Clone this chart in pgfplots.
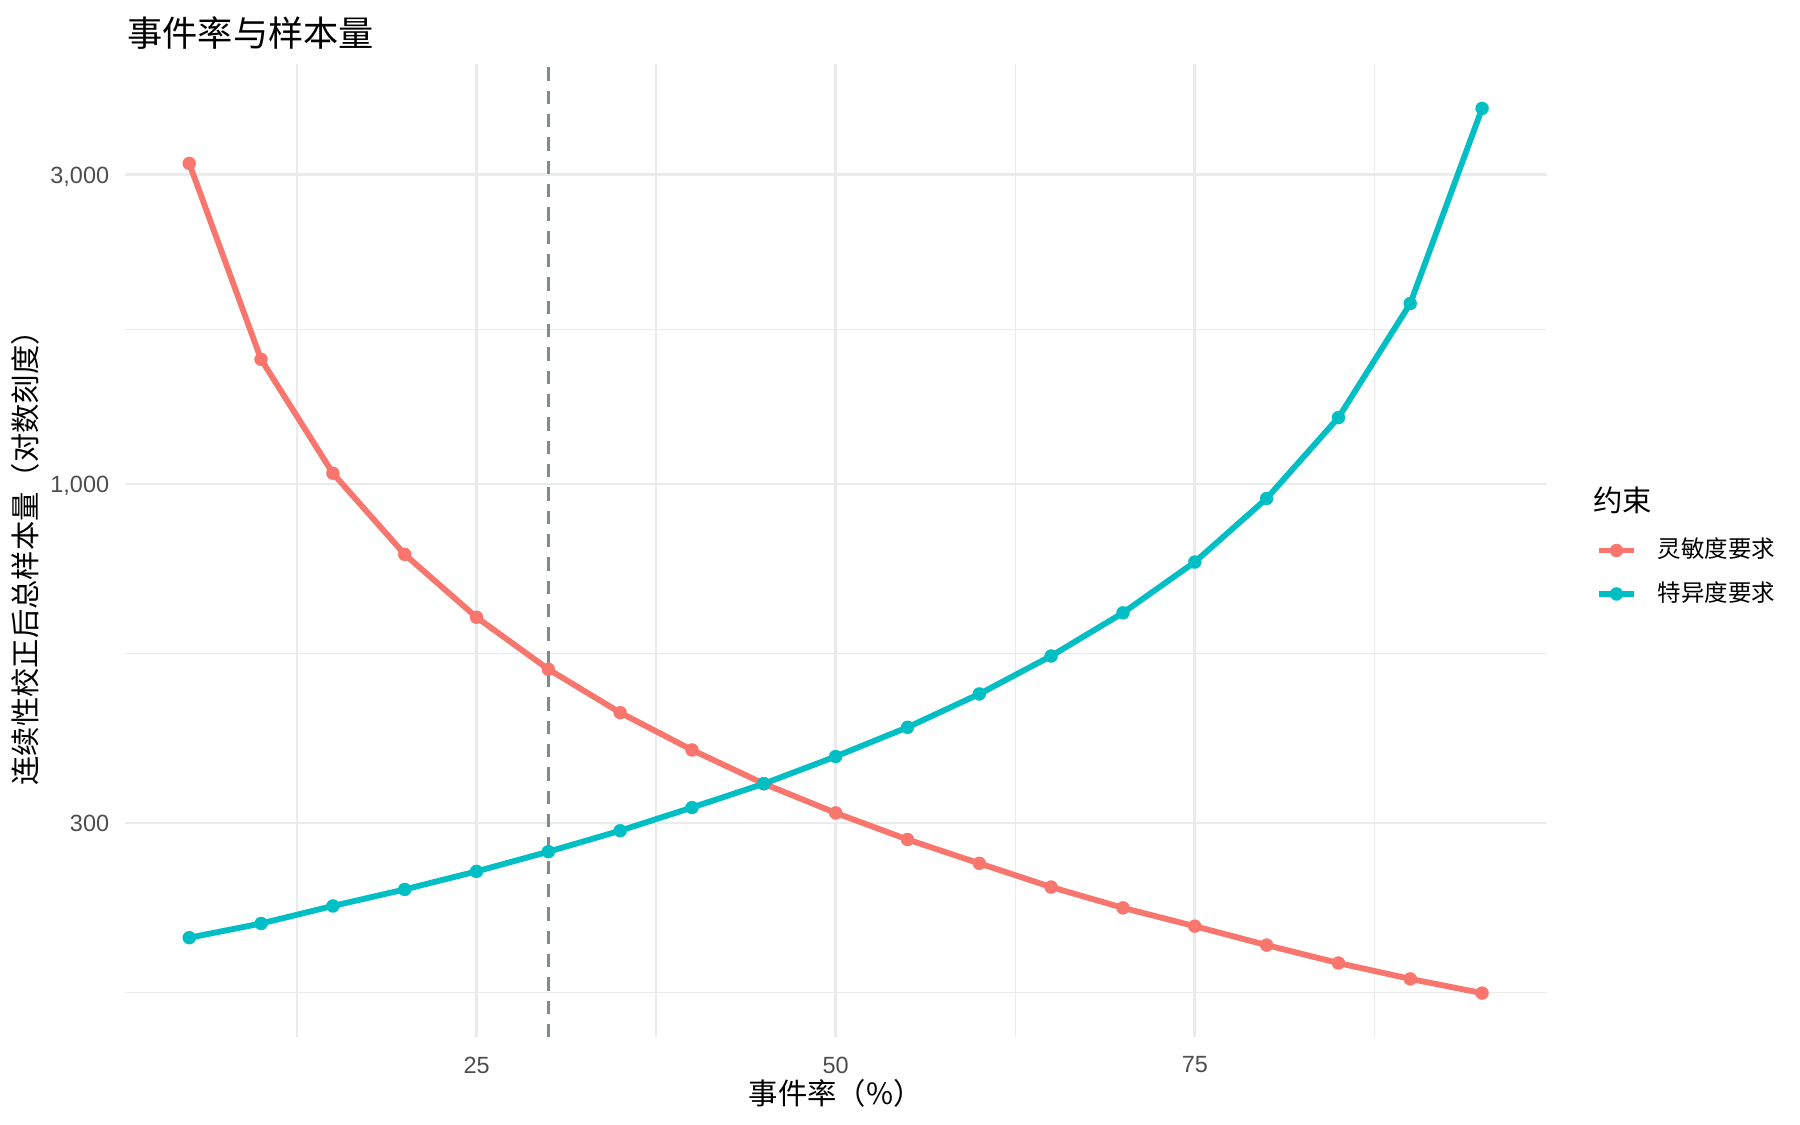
\documentclass[border=0pt]{standalone}
\usepackage{pgfplots}
\pgfplotsset{compat=1.18}
\usepackage{fontspec}
\setmainfont{Liberation Sans}
\newfontfamily\cjk{Noto Sans CJK SC}

\definecolor{ggred}{HTML}{F8766D}
\definecolor{ggteal}{HTML}{00BFC4}
\definecolor{gridgray}{HTML}{EBEBEB}
\definecolor{ticktext}{HTML}{4D4D4D}
\definecolor{dashgray}{HTML}{7F8C8D}

\begin{document}
\begin{tikzpicture}
\path[use as bounding box] (-46.73pt,-32.81pt) rectangle (628.27pt,389.06pt);
\begin{axis}[
  name=ax,
  at={(0,0)}, anchor=south west,
  scale only axis,
  width=533.3pt, height=365.0pt,
  ymode=log,
  xmin=0.5, xmax=99.5,
  ymin=140.1, ymax=4443,
  axis line style={draw=none},
  major tick length=0pt, minor tick length=0pt,
  xtick={25,50,75}, xticklabels={25,50,75},
  minor xtick={12.5,37.5,62.5,87.5},
  ytick={300,1000,3000}, yticklabels={300,{1,000},{3,000}},
  minor ytick={164.3,547.7,1732},
  grid=both,
  major grid style={color=gridgray, line width=1pt},
  minor grid style={color=gridgray, line width=0.5pt},
  ticklabel style={font=\fontsize{8.8}{10}\selectfont, text=ticktext},
  xticklabel style={inner sep=0pt, anchor=center, yshift=-10.3pt},
  yticklabel style={inner sep=0pt, anchor=east, xshift=-5.6pt, text height=6.3pt, text depth=0pt},
  legend cell align=left,
  legend style={at={(1.0347,0.478)}, anchor=west, draw=none, fill=none,
    inner sep=0pt, outer sep=0pt, row sep=7.5pt, column sep=7.8pt,
    nodes={inner sep=0pt, text height=7.2pt, text depth=1.6pt,
      font=\cjk\fontsize{8.8}{10}\selectfont}},
  legend image code/.code={\draw[mark repeat=2,mark phase=2,#1]
    plot coordinates {(0pt,0pt) (6.55pt,0pt) (13.1pt,0pt)};},
]
% reference line at 30%
\addplot[forget plot, color=dashgray, line width=1pt, dash pattern=on 5pt off 3.75pt]
  coordinates {(30,140.1) (30,4443)};

% sensitivity requirement
\addplot[color=ggred, line width=2.2pt, line join=round, mark=*, mark size=2.45pt,
  mark options={solid, fill=ggred, line width=0.1pt}]
  coordinates {
    (5,3123) (10,1557) (15,1039) (20,779) (25,623) (30,518) (35,444)
    (40,389) (45,345) (50,311) (55,283) (60,260) (65,239) (70,222)
    (75,208) (80,194.5) (85,182.5) (90,172.5) (95,164)
  };
\addlegendentry{灵敏度要求}

% specificity requirement
\addplot[color=ggteal, line width=2.2pt, line join=round, mark=*, mark size=2.45pt,
  mark options={solid, fill=ggteal, line width=0.1pt}]
  coordinates {
    (5,199.7) (10,210) (15,223.5) (20,237) (25,252.7) (30,271) (35,292)
    (40,317) (45,345) (50,380) (55,421.5) (60,474.5) (65,543) (70,633)
    (75,758) (80,950) (85,1266) (90,1899) (95,3797)
  };
\addlegendentry{特异度要求}
\end{axis}

\node[anchor=west, inner sep=0pt] at (0.9pt,376.8pt)
  {\cjk\fontsize{13.2}{15}\selectfont 事件率与样本量};
\node[inner sep=0pt] at (266.6pt,-20.8pt)
  {\cjk\fontsize{11}{13}\selectfont 事件率（\%）};
\node[rotate=90, inner sep=0pt] at (-37.2pt,182.5pt)
  {\cjk\fontsize{11}{13}\selectfont 连续性校正后总样本量（对数刻度）};
\node[anchor=west, inner sep=0pt] at (550.6pt,201.6pt)
  {\cjk\fontsize{11}{13}\selectfont 约束};
\end{tikzpicture}
\end{document}
